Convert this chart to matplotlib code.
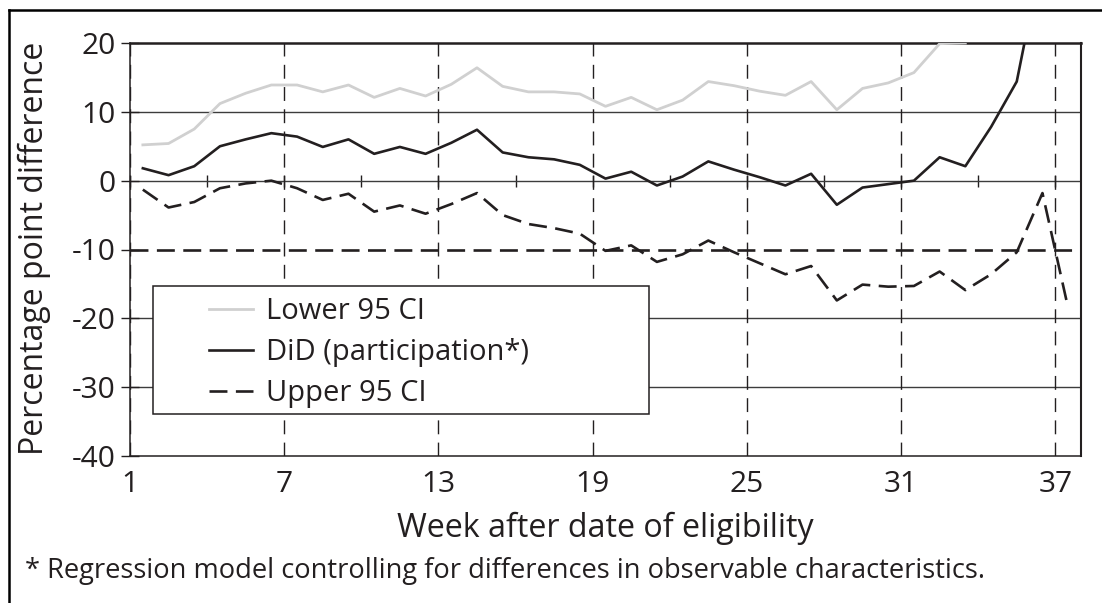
import numpy as np
import matplotlib.pyplot as plt
from matplotlib.lines import Line2D
from matplotlib.patches import Rectangle

plt.rcParams['font.family'] = ['Open Sans', 'DejaVu Sans']
plt.rcParams['axes.unicode_minus'] = False

nan = np.nan

# weeks after date of eligibility (one value per week)
weeks = np.arange(1, 38)

lower_ci = [5.2, 5.4, 7.5, 11.2, 12.7, 13.9, 13.9, 12.9, 13.9, 12.1, 13.4, 12.3, 14.0,
            16.4, 13.7, 12.9, 12.9, 12.6, 10.8, 12.1, 10.3, 11.7, 14.4, 13.8, 13.0,
            12.4, 14.4, 10.3, 13.4, 14.2, 15.7, 19.9, 20.0, nan, nan, nan, nan]

did = [1.8, 0.8, 2.1, 5.0, 6.0, 6.9, 6.4, 4.9, 6.0, 3.9, 4.9, 3.9, 5.5,
       7.4, 4.1, 3.4, 3.1, 2.3, 0.3, 1.3, -0.7, 0.6, 2.8, 1.6, 0.5,
       -0.7, 1.0, -3.5, -1.0, -0.5, 0.0, 3.4, 2.1, 7.8, 14.4, 33.0, nan]

upper_ci = [-1.3, -3.9, -3.1, -1.1, -0.4, 0.0, -1.1, -2.8, -1.9, -4.5, -3.6, -4.8, -3.4,
            -1.8, -5.0, -6.3, -6.9, -7.7, -10.2, -9.4, -11.8, -10.7, -8.7, -10.4, -12.0,
            -13.6, -12.4, -17.4, -15.1, -15.4, -15.3, -13.2, -15.9, -13.6, -10.4, -1.8, -18.5]

xtick_labels = [1, 7, 13, 19, 25, 31, 37]
minor_ticks = list(range(1, 38, 3))
yticks = [-40, -30, -20, -10, 0, 10, 20]
solid_grid = [10, 0, -20, -30]
threshold = -10

black = '#231f20'
grid_c = '#3c3c3c'

fig = plt.figure(figsize=(11.02, 6.03), dpi=100)
ax = fig.add_axes([130 / 1102, 1 - 456 / 603, 951 / 1102, 413 / 603])

# points sit in the middle of each week's slot
xpos = weeks + 0.5

for g in solid_grid:
    ax.axhline(g, color=grid_c, lw=1.0, zorder=1)
ax.axhline(threshold, color=black, lw=1.9, dashes=(6.8, 3.2), zorder=2)

ax.plot(xpos, lower_ci, color='#d0d0d0', lw=2.0, label='Lower 95 CI', zorder=3)
ax.plot(xpos, did, color=black, lw=1.9, label='DiD (participation*)', zorder=3)
ax.plot(xpos, upper_ci, color=black, lw=1.9, dashes=(6.8, 3.2), label='Upper 95 CI', zorder=3)

ax.set_xlim(1, 38)
ax.set_ylim(-40, 20)
ax.set_xticks(xtick_labels)
ax.set_xticklabels([str(t) for t in xtick_labels])
ax.set_yticks(yticks)
ax.grid(axis='x', color=black, lw=1.0, dashes=(10, 6))
ax.tick_params(axis='x', length=0, pad=10, labelsize=21.5, colors=black)
ax.tick_params(axis='y', direction='inout', length=13, width=1.0, pad=4,
               labelsize=21.5, colors=black)
for s in ax.spines.values():
    s.set_color(black)
    s.set_linewidth(1.1)
ax.spines['top'].set_linewidth(1.8)
ax.spines['right'].set_linewidth(1.5)

# x axis crossing at zero, tick marks every 3 weeks
sec = ax.secondary_xaxis(2 / 3)
sec.set_xticks(minor_ticks)
sec.tick_params(direction='inout', length=8, width=1.0, labelbottom=False,
                labeltop=False, colors=black)
sec.spines['bottom'].set_visible(False)
sec.spines['top'].set_visible(False)

# legend box
ax.add_patch(Rectangle((0.024, 0.102), 0.522, 0.31, transform=ax.transAxes,
                       facecolor='white', edgecolor=black, lw=1.1, zorder=5))
leg = ax.legend(loc='upper left', bbox_to_anchor=(0.08, 0.392), frameon=False,
                fontsize=21, handlelength=1.5, handletextpad=0.45,
                labelspacing=0.41, borderpad=0.1, borderaxespad=0)
leg.set_zorder(6)
for t in leg.get_texts():
    t.set_color(black)

fig.text(34 / 1102, 1 - 248 / 603, 'Percentage point difference', rotation=90,
         ha='center', va='center', fontsize=23, color=black)
fig.text(605 / 1102, 1 - 537 / 603, 'Week after date of eligibility',
         ha='center', va='baseline', fontsize=23.2, color=black)
fig.text(25 / 1102, 1 - 578 / 603,
         '* Regression model controlling for differences in observable characteristics.',
         ha='left', va='baseline', fontsize=19.6, color=black)

# outer frame (left and top only)
fig.add_artist(Line2D([8.5 / 1102, 8.5 / 1102], [0, 1 - 10 / 603], transform=fig.transFigure,
                      color='black', lw=1.8))
fig.add_artist(Line2D([8.5 / 1102, 1], [1 - 10 / 603, 1 - 10 / 603], transform=fig.transFigure,
                      color='black', lw=1.8))

fig.savefig('out.png', dpi=100)
